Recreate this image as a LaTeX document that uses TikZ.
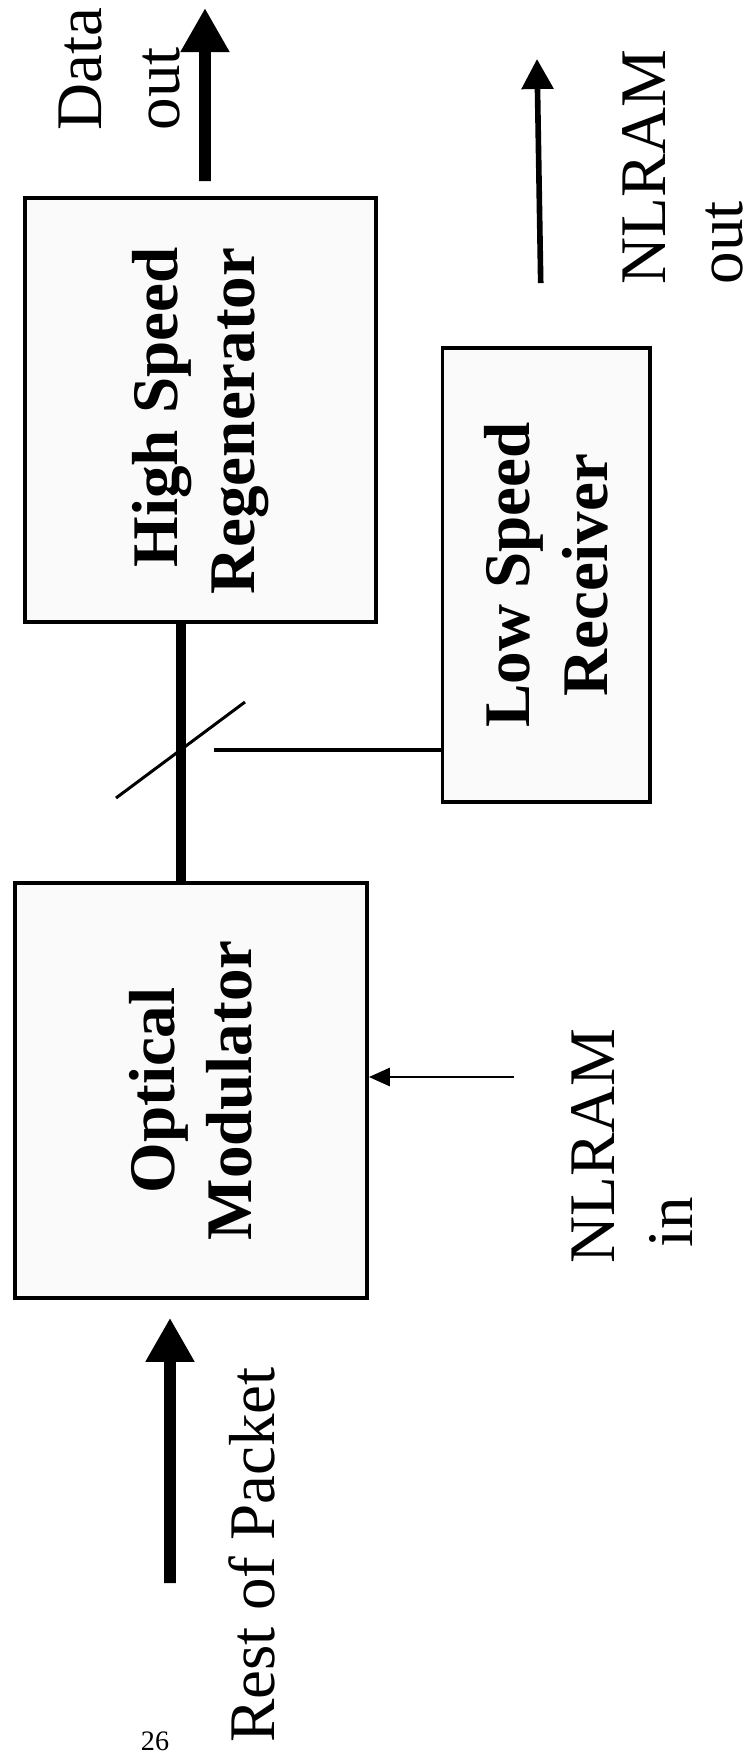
\documentclass[tikz,border=0pt]{standalone}
\usepackage{fontspec}
\setmainfont{Liberation Serif}
\usepackage{tikz}
\usetikzlibrary{arrows.meta, positioning}

\begin{document}
\begin{tikzpicture}[x=0.01cm,y=-0.01cm,
  font=\fontsize{18.5}{22}\selectfont,
  block/.style={rectangle, draw, line width=1pt, fill=black!2, inner sep=0pt},
  vtext/.style={rotate=90, align=left, inner sep=0pt},
  bold label/.style={rotate=90, align=center, inner sep=0pt,
    font=\fontsize{18.5}{22}\selectfont\bfseries},
  fat/.style={line width=3.4pt, -{Triangle[length=0.44cm,width=0.46cm]}},
  slim/.style={line width=1.6pt, -{Triangle[length=0.3cm,width=0.31cm]}},
  hair/.style={line width=0.8pt, -{Triangle[length=0.21cm,width=0.18cm]}}]
  \useasboundingbox (0,0) rectangle (752,1754);

  \node[block, minimum width=3.51cm, minimum height=4.24cm] (HSR) at (200.5,410)
    [label={[yshift=-0.11cm, bold label, align=right]center:High Speed\\Regenerator}] {};
  \node[block, minimum width=2.07cm, minimum height=4.54cm] (LSR)
    [right=0.63cm of HSR, yshift=-1.65cm, label={[bold label]center:Low Speed\\Receiver}] {};
  \node[block, minimum width=3.52cm, minimum height=4.15cm] (OM)
    [below=2.57cm of HSR, xshift=-0.095cm, label={[bold label]center:Optical\\Modulator}] {};

  \node[vtext] (DataOut) at (119.5,69) {Data\\out};
  \node[vtext] (NlramOut) at (683,167) {NLRAM\\out};
  \node[vtext] (NlramIn) at (632,1146) {NLRAM\\\hspace*{.25em}in};
  \node[vtext] (Packet) at (252,1555) {Rest of Packet};
  \node[inner sep=0pt, font=\fontsize{8}{9}\selectfont] (PageNo) at (155,1741) {26};

  \coordinate (dtop) at (205,8);
  \coordinate (ntop) at (537,59);
  \coordinate (nin) at (514,1077);
  \coordinate (rtail) at (170,1583);
  \coordinate (bs) at (181,750);

  \path
    ([xshift=0.045cm,yshift=0.15cm]HSR.north) edge[fat] (dtop)
    ([xshift=-0.055cm,yshift=0.63cm]LSR.north) edge[slim] (ntop)
    ([xshift=-0.195cm]HSR.south) edge[line width=2.8pt] ([xshift=-0.1cm]OM.north)
    ([xshift=0.33cm]bs) edge[line width=1.4pt] (bs -| LSR.west)
    (nin) edge[hair] (nin -| OM.east)
    (rtail) edge[fat] ([xshift=-0.21cm,yshift=-0.18cm]OM.south);
  % beam splitter
  \draw[line width=0.85pt] (bs) ++(-65,48) -- ++(129,-96);
\end{tikzpicture}
\end{document}
